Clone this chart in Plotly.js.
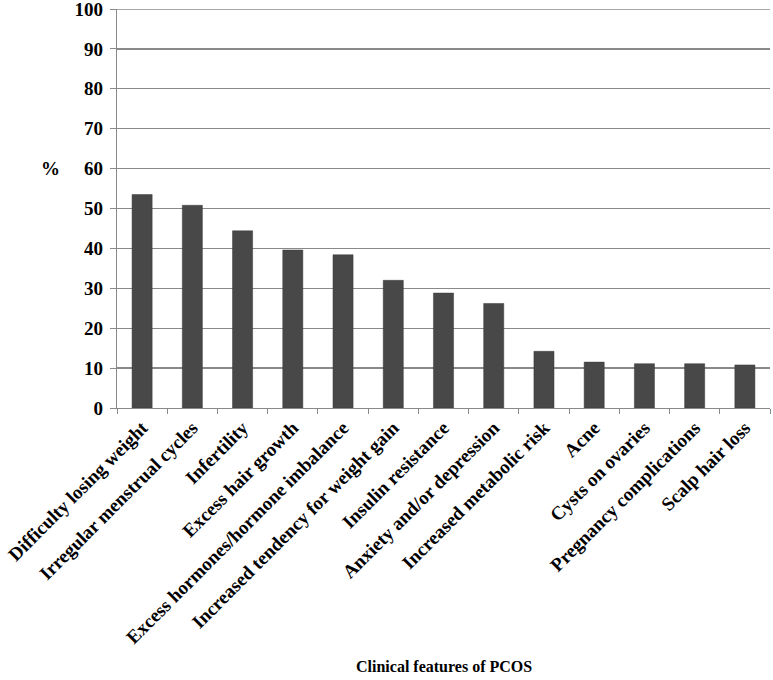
<!DOCTYPE html>
<html>
<head>
<meta charset="utf-8">
<script src="https://cdn.plot.ly/plotly-3.0.1.min.js"></script>
<style>html,body{margin:0;padding:0;background:#fff;}#chart{width:773px;height:680px;}</style>
</head>
<body>
<div id="chart"></div>
<script>
const categories = [
  "Difficulty losing weight",
  "Irregular menstrual cycles",
  "Infertility",
  "Excess hair growth",
  "Excess hormones/hormone imbalance",
  "Increased tendency for weight gain",
  "Insulin resistance",
  "Anxiety and/or depression",
  "Increased metabolic risk",
  "Acne",
  "Cysts on ovaries",
  "Pregnancy complications",
  "Scalp hair loss"
];
const percentValues = [53.5, 50.8, 44.4, 39.6, 38.4, 32.0, 28.8, 26.2, 14.2, 11.5, 11.1, 11.1, 10.8];
const yTickValues = [0, 10, 20, 30, 40, 50, 60, 70, 80, 90, 100];

const font = "'Times New Roman', 'Liberation Serif', serif";

Plotly.newPlot('chart', [{
  type: 'bar',
  x: categories,
  y: percentValues,
  marker: {color: '#484848', line: {color: '#3a3a3a', width: 0.5}},
  hoverinfo: 'none'
}], {
  width: 773, height: 680,
  margin: {l: 117, r: 3, t: 9, b: 272},
  paper_bgcolor: '#fff', plot_bgcolor: '#fff',
  bargap: 0.6,
  showlegend: false,
  font: {family: font, color: '#000'},
  xaxis: {
    type: 'category',
    tickangle: -45,
    tickson: 'boundaries',
    ticks: 'outside', ticklen: 5, tickcolor: '#898989', tickwidth: 1,
    showline: true, linecolor: '#898989', linewidth: 1.3,
    showgrid: false,
    tickfont: {family: font, size: 19, color: '#000', weight: 'bold'},
    automargin: false
  },
  yaxis: {
    range: [0, 100],
    tickvals: yTickValues,
    ticks: 'outside', ticklen: 6, tickcolor: '#898989', tickwidth: 1,
    showline: true, linecolor: '#898989', linewidth: 1.3,
    showgrid: true, gridcolor: '#898989', gridwidth: 1.3,
    zeroline: false,
    tickfont: {family: font, size: 19, color: '#000', weight: 'bold'},
    ticklabelstandoff: 3,
    ticklabeloverflow: 'allow',
    automargin: false
  },
  shapes: [
    {type: 'line', xref: 'paper', yref: 'y', x0: 0, x1: 1, y0: 100, y1: 100, line: {color: '#898989', width: 1.3}, layer: 'below'}
  ],
  annotations: [
    {text: '<b>%</b>', xref: 'paper', yref: 'paper', x: -0.102, y: 0.6, xanchor: 'center', yanchor: 'middle', showarrow: false, font: {family: font, size: 19, color: '#000'}},
    {text: '<b>Clinical features of PCOS</b>', xref: 'paper', yref: 'paper', x: 0.5, y: -0.647, xanchor: 'center', yanchor: 'middle', showarrow: false, font: {family: font, size: 16, color: '#000'}}
  ]
}, {displayModeBar: false, staticPlot: true});
</script>
</body>
</html>
